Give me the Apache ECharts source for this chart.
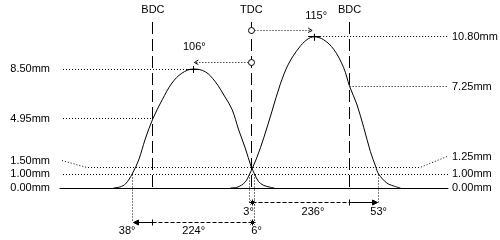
<!DOCTYPE html>
<html>
<head>
<meta charset="utf-8">
<script src="https://cdn.jsdelivr.net/npm/echarts@6/dist/echarts.min.js"></script>
<style>html,body{margin:0;padding:0;background:#fff}#c{width:500px;height:240px}</style>
</head>
<body>
<div id="c"></div>
<script>
// ---- data (crank degrees relative to TDC, lift in mm) ----
const exhaustDeg  = [-252,-240,-230,-218,-206,-194,-180,-163,-145,-127,-106,-84,-66,-48,-35,-23,-11,0,6,13,22,35,42];
const exhaustLift = [0,0.08,0.3,1.0,2.0,3.5,4.95,6.3,7.5,8.2,8.5,8.3,7.6,6.5,5.6,4.15,2.85,1.5,1.0,0.48,0.2,0.05,0];
const intakeDeg   = [-38,-26,-11,-3,0,10,23,38,53,68,87,102,115,132,151,169,180,193,206,218,228,233,248,260,273];
const intakeLift  = [0,0.05,0.43,1.0,1.25,2.15,3.6,5.5,7.4,8.85,10.0,10.6,10.8,10.6,9.9,8.6,7.25,6.0,4.3,2.6,1.5,1.0,0.36,0.15,0];
const deadCentres = [{name:'BDC',deg:-180},{name:'TDC',deg:0},{name:'BDC',deg:180}];
const exhaustTiming = {open:38, close:6, duration:224, peakDeg:106, peakLift:8.50, bdcLift:4.95, tdcLift:1.50};
const intakeTiming  = {open:3, close:53, duration:236, peakDeg:115, peakLift:10.80, bdcLift:7.25, tdcLift:1.25};
const checkLift = 1.00;
const leftLiftLabels  = ['8.50mm','4.95mm','1.50mm','1.00mm','0.00mm'];
const rightLiftLabels = ['10.80mm','7.25mm','1.25mm','1.00mm','0.00mm'];

const chart = echarts.init(document.getElementById('c'), null, {renderer:'canvas'});
const zip = (a,b) => a.map((v,i)=>[v,b[i]]);
const FONT = '11px "Liberation Sans", Arial, sans-serif';

chart.setOption({
  animation:false,
  backgroundColor:'#fff',
  grid:{left:60, width:388, top:20, height:168},
  xAxis:{type:'value', min:-350, max:360, splitLine:{show:false},
    axisLine:{show:true, onZero:false, lineStyle:{color:'#000', width:1}},
    axisTick:{show:false}, axisLabel:{show:false}},
  yAxis:{type:'value', min:0, max:12, show:false, splitLine:{show:false}},
  series:[
    {type:'line', data:zip(exhaustDeg, exhaustLift), showSymbol:false, smooth:0.35,
      lineStyle:{color:'#000', width:1}, silent:true, z:5},
    {type:'line', data:zip(intakeDeg, intakeLift), showSymbol:false, smooth:0.35,
      lineStyle:{color:'#000', width:1}, silent:true, z:5}
  ]
});

const P = (d, mm) => chart.convertToPixel({gridIndex:0}, [d, mm]);
const X = d => P(d,0)[0];
const Y = mm => P(0,mm)[1];
const c = v => Math.floor(v) + 0.5;
const G = [];
const DOT = [1,2];
function ln(x1,y1,x2,y2,dash){ G.push({type:'line', silent:true, z:10, shape:{x1,y1,x2,y2}, style:{stroke:'#000', lineWidth:1, lineDash:dash||null, fill:null}}); }
function pl(points,dash){ G.push({type:'polyline', silent:true, z:10, shape:{points}, style:{stroke:'#000', lineWidth:1, lineDash:dash||null, fill:null}}); }
function tx(x,y,t,align){ G.push({type:'text', silent:true, z:12, x, y, style:{text:t, font:FONT, fill:'#000', align:align||'center', verticalAlign:'middle', textAlign:align||'center', textVerticalAlign:'middle'}}); }
function tri(pts){ G.push({type:'polygon', silent:true, z:11, shape:{points:pts}, style:{fill:'#000', stroke:'#000', lineWidth:1}}); }

const L0 = 63, R0 = 448, LT = 50, RT = 452;

// dead centre dashed lines and labels
deadCentres.forEach(dc => {
  const x = c(X(dc.deg));
  ln(x, 22, x, Y(0), [12,5]);
  tx(X(dc.deg), 10, dc.name);
});

// left lift reference lines
const yEP = Y(exhaustTiming.peakLift), yEB = Y(exhaustTiming.bdcLift), yET = Y(exhaustTiming.tdcLift), y1 = Y(checkLift), y0 = Y(0);
ln(L0, c(yEP), X(-exhaustTiming.peakDeg), c(yEP), DOT);
ln(L0, c(yEB), X(-180), c(yEB), DOT);
ln(L0, c(y1), R0, c(y1), DOT);
// tdc lift line with label leaders
pl([[62, 160.5],[87, c(yET)],[420, c(yET)],[447, 156.5]], DOT);
tx(LT, yEP, leftLiftLabels[0], 'right');
tx(LT, yEB, leftLiftLabels[1], 'right');
tx(LT, 161, leftLiftLabels[2], 'right');
tx(LT, y1, leftLiftLabels[3], 'right');
tx(LT, y0, leftLiftLabels[4], 'right');

// right lift reference lines
const yIP = Y(intakeTiming.peakLift), yIB = Y(intakeTiming.bdcLift);
ln(X(intakeTiming.peakDeg), c(yIP), R0, c(yIP), DOT);
ln(X(180), c(yIB), R0, c(yIB), DOT);
tx(RT, yIP, rightLiftLabels[0], 'left');
tx(RT, yIB, rightLiftLabels[1], 'left');
tx(RT, 157, rightLiftLabels[2], 'left');
tx(RT, y1, rightLiftLabels[3], 'left');
tx(RT, y0, rightLiftLabels[4], 'left');

// peak markers (+)
[[-exhaustTiming.peakDeg, exhaustTiming.peakLift],[intakeTiming.peakDeg, intakeTiming.peakLift]].forEach(p => {
  const [x,y] = P(p[0], p[1]);
  ln(x-6, c(y), x+6, c(y));
  ln(c(x), y-3, c(x), y+4);
});

// peak angle arrows from TDC
const xT = c(X(0));
const xEPk = X(-exhaustTiming.peakDeg), xIPk = X(intakeTiming.peakDeg);
const yA1 = c(yEP - 7), yA2 = c(yIP - 6);
ln(xEPk+3, yA1, xT-3, yA1, DOT);
pl([[xEPk+5, yA1-2.5],[xEPk+1, yA1],[xEPk+5, yA1+2]]);
ln(xT+3, yA2, xIPk-3, yA2, DOT);
pl([[xIPk-6, yA2-2.5],[xIPk-2, yA2],[xIPk-6, yA2+2]]);
[yA1, yA2].forEach(y => G.push({type:'circle', silent:true, z:11, shape:{cx:xT, cy:y, r:3}, style:{fill:'#fff', stroke:'#000', lineWidth:1}}));
tx(xEPk+1, 47, exhaustTiming.peakDeg + '°');
tx(xIPk+2, 16, intakeTiming.peakDeg + '°');

// timing verticals
const xEO = c(X(-180 - exhaustTiming.open)), xEC = c(X(exhaustTiming.close));
const xIO = c(X(-intakeTiming.open)), xIC = c(X(180 + intakeTiming.close));
const rI = 202.5, rE = 222.5;
ln(xEO, c(y1), xEO, rE, DOT);
ln(xEC, c(y1), xEC, rE, DOT);
ln(xIO, c(y1), xIO, rI, DOT);
ln(xIC, c(y1), xIC, rI, DOT);

function star(x,y){ ln(x-3,y,x+3,y); ln(x,y-3,x,y+3); ln(x-2,y-2,x+2,y+2); ln(x-2,y+2,x+2,y-2); }
// intake duration row
const xB1 = c(X(-180)), xB2 = c(X(180));
ln(xT+1, rI, xB2, rI, [4,2]);
ln(xB2, rI, xIC-2, rI);
ln(xB2, rI-3, xB2, rI+3);
tri([[xIC-6, rI-2.5],[xIC-1, rI],[xIC-6, rI+2.5]]);
star(xT+1, rI);
tx(X(-intakeTiming.open)-1, 212, intakeTiming.open + '°');
tx((X(0)+X(180+intakeTiming.close))/2 - 2, 212, intakeTiming.duration + '°');
tx(X(180+intakeTiming.close), 212, intakeTiming.close + '°');

// exhaust duration row
ln(xEO+2, rE, xB1, rE);
ln(xB1, rE, xT+1, rE, [4,2]);
ln(xB1, rE-3, xB1, rE+3);
tri([[xEO+6, rE-2.5],[xEO+1, rE],[xEO+6, rE+2.5]]);
star(xT+1, rE);
tx(X(-180-exhaustTiming.open)-5, 231, exhaustTiming.open + '°');
tx((X(-180-exhaustTiming.open)+X(0))/2 + 2, 231, exhaustTiming.duration + '°');
tx(X(exhaustTiming.close)+2, 231, exhaustTiming.close + '°');

chart.setOption({graphic:{elements:G}});
</script>
</body>
</html>
